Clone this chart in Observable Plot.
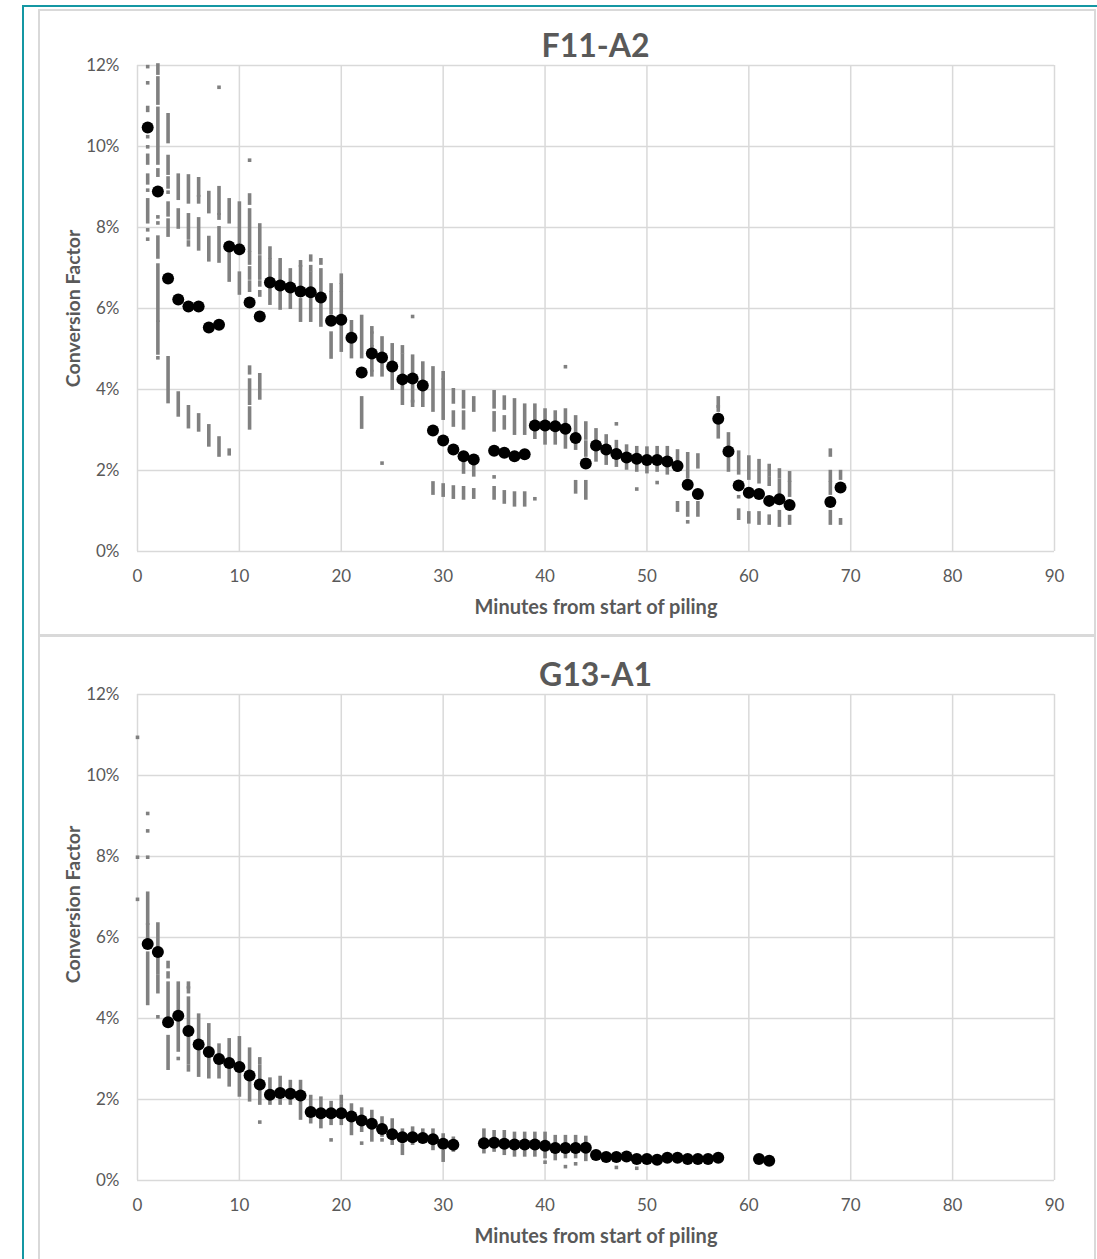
<!DOCTYPE html>
<html><head><meta charset="utf-8">
<script src="https://cdn.jsdelivr.net/npm/d3@7"></script>
<script src="https://cdn.jsdelivr.net/npm/@observablehq/plot@0.6"></script>
<style>
body{margin:0;background:#fff;font-family:Lato,"Open Sans",sans-serif;}
#page{position:relative;width:1097px;height:1259px;overflow:hidden;background:#fff;}
.teal-top{position:absolute;left:22px;top:5px;width:1075px;height:2px;background:#1497a3;}
.teal-left{position:absolute;left:22px;top:5px;width:2px;height:1260px;background:#1497a3;}
.box{position:absolute;left:38px;width:1058px;box-shadow:inset 0 0 0 2px #d9d9d9;}
.box svg{position:absolute;left:0;top:0;}
.title{position:absolute;left:99px;width:917px;text-align:center;font-weight:bold;font-size:32px;line-height:38px;color:#595959;font-family:Lato,"Open Sans",sans-serif;}
</style>
</head><body>
<div id="page">
  <div class="teal-top"></div>
  <div class="teal-left"></div>
  <div class="box" id="box1" style="top:9px;height:627px;"><div class="title" style="top:17px;">F11-A2</div></div>
  <div class="box" id="box2" style="top:635px;height:630px;"><div class="title" style="top:20px;">G13-A1</div></div>
</div>
<script>
// ---- data ----
const xTicks = [0, 10, 20, 30, 40, 50, 60, 70, 80, 90];
const yTicks = [0, 2, 4, 6, 8, 10, 12];
const xLabel = "Minutes from start of piling";
const yLabel = "Conversion Factor";

// F11-A2 mean conversion factor (%) by minute
const f11Minute = [1,2,3,4,5,6,7,8,9,10,11,12,13,14,15,16,17,18,19,20,21,22,23,24,25,26,27,28,29,30,31,32,33,35,36,37,38,39,40,41,42,43,44,45,46,47,48,49,50,51,52,53,54,55,57,58,59,60,61,62,63,64,68,69];
const f11Mean = [10.47,8.89,6.74,6.22,6.05,6.05,5.53,5.60,7.53,7.46,6.15,5.80,6.64,6.57,6.52,6.42,6.40,6.27,5.70,5.72,5.28,4.42,4.89,4.79,4.57,4.25,4.27,4.10,2.99,2.74,2.52,2.35,2.27,2.49,2.44,2.35,2.40,3.11,3.11,3.09,3.03,2.80,2.17,2.62,2.52,2.41,2.32,2.29,2.26,2.26,2.22,2.11,1.65,1.42,3.28,2.47,1.63,1.45,1.42,1.25,1.29,1.15,1.22,1.58];

// F11-A2 individual readings: [minute, low %, high %]
const f11Spread = [
 [1,11.96,11.96],[1,11.56,11.56],[1,10.88,10.95],[1,10.23,10.23],[1,9.98,9.98],[1,9.58,9.77],[1,9.09,9.28],[1,8.91,8.91],[1,8.13,8.67],[1,7.93,7.93],[1,7.70,7.70],
 [2,11.8,12],[2,11.06,11.68],[2,9.58,10.93],[2,9.28,9.41],[2,8.84,8.91],[2,8.25,8.25],[2,8.1,8.1],[2,7.26,7.75],[2,5.70,7.06],[2,4.89,5.65],[2,4.77,4.77],
 [3,10.11,10.77],[3,9.33,9.74],[3,8.99,9.21],[3,8.86,8.86],[3,8.30,8.59],[3,7.80,8.17],[3,3.69,4.77],
 [4,8.71,9.28],[4,8.0,8.42],[4,3.36,3.90],
 [5,8.62,9.26],[5,7.73,8.30],[5,7.56,7.63],[5,3.07,3.56],
 [6,8.79,9.19],[6,8.62,8.75],[6,7.46,8.2],[6,2.99,3.36],
 [7,8.38,8.85],[7,7.19,7.74],[7,2.62,3.09],
 [8,11.45,11.45],[8,8.34,8.97],[8,8.22,8.30],[8,7.16,7.98],[8,2.37,2.79],
 [9,8.13,8.67],[9,6.69,7.36],[9,2.40,2.49],
 [10,7.64,8.59],[10,6.37,6.86],
 [11,9.65,9.65],[11,8.59,8.79],[11,7.43,8.42],[11,7.11,7.36],[11,6.74,6.99],[11,6.44,6.64],[11,4.40,4.54],[11,3.65,4.22],[11,3.04,3.53],
 [12,7.36,8.05],[12,6.74,7.26],[12,6.57,6.64],[12,6.32,6.40],[12,3.78,4.35],
 [13,7.26,7.48],[13,6.12,7.19],
 [14,6.0,7.19],
 [15,6.02,6.94],
 [16,7.06,7.14],[16,6.32,7.02],[16,5.7,6.2],
 [17,7.19,7.28],[17,6.94,7.02],[17,5.7,6.86],
 [18,7.11,7.19],[18,5.58,6.94],
 [19,6.44,6.57],[19,5.88,6.37],[19,4.79,5.38],
 [20,6.64,6.81],[20,6.44,6.57],[20,4.96,6.37],
 [21,4.80,5.66],
 [22,4.80,5.79],[22,3.06,3.78],
 [23,5.41,5.51],[23,5.09,5.38],[23,4.47,5.04],[23,4.35,4.43],
 [24,4.35,5.26],[24,2.17,2.17],
 [25,4.02,5.09],
 [26,4.92,5.04],[26,3.65,4.84],
 [27,5.79,5.79],[27,3.71,4.81],[27,3.60,3.69],
 [28,3.60,4.64],
 [29,3.48,4.52],[29,1.43,1.68],
 [30,4.27,4.40],[30,3.28,4.22],[30,1.38,1.63],
 [31,3.68,3.98],[31,3.11,3.43],[31,1.33,1.58],
 [32,3.56,3.93],[32,3.04,3.43],[32,1.95,2.37],[32,1.31,1.56],
 [33,3.48,3.78],[33,1.88,2.17],[33,1.33,1.51],
 [35,3.56,3.93],[35,2.99,3.41],[35,1.83,1.83],[35,1.31,1.56],
 [36,3.53,3.80],[36,3.04,3.31],[36,1.21,1.46],
 [37,2.91,3.73],[37,1.14,1.43],
 [38,2.91,3.60],[38,1.14,1.43],
 [39,2.81,3.60],[39,1.29,1.29],
 [40,2.67,3.48],
 [41,2.67,3.43],
 [42,4.55,4.55],[42,2.57,3.48],
 [43,2.54,3.31],[43,1.46,1.71],
 [44,2.79,3.16],[44,2.37,2.69],[44,1.31,1.71],
 [45,2.25,2.99],
 [46,2.17,2.84],
 [47,3.14,3.14],[47,2.12,2.70],
 [48,2.05,2.59],
 [49,2.0,2.55],[49,1.53,1.53],
 [50,1.96,2.54],
 [51,2.0,2.55],[51,1.69,1.69],
 [52,1.93,2.55],
 [53,2.0,2.47],[53,1.01,1.19],
 [54,1.83,2.40],[54,0.89,1.19],[54,0.72,0.72],
 [55,2.08,2.37],[55,0.89,1.19],
 [57,3.58,3.78],[57,3.48,3.56],[57,2.82,3.11],
 [58,2.0,2.89],
 [59,1.93,2.44],[59,1.34,1.34],[59,0.81,1.01],
 [60,1.80,2.32],[60,0.72,0.94],
 [61,1.71,2.23],[61,0.69,0.94],
 [62,1.88,2.11],[62,1.65,1.80],[62,0.69,0.86],
 [63,1.83,2.0],[63,1.42,1.74],[63,0.64,0.97],
 [64,1.75,1.93],[64,1.38,1.69],[64,0.69,0.85],
 [68,2.37,2.49],[68,1.75,1.96],[68,1.43,1.68],[68,0.69,0.97],
 [69,1.80,1.96],[69,0.69,0.77]
];

// G13-A1 mean conversion factor (%) by minute
const g13Minute = [1,2,3,4,5,6,7,8,9,10,11,12,13,14,15,16,17,18,19,20,21,22,23,24,25,26,27,28,29,30,31,34,35,36,37,38,39,40,41,42,43,44,45,46,47,48,49,50,51,52,53,54,55,56,57,61,62];
const g13Mean = [5.84,5.64,3.91,4.07,3.69,3.36,3.17,3.00,2.90,2.80,2.59,2.37,2.12,2.16,2.14,2.10,1.69,1.66,1.66,1.66,1.58,1.48,1.40,1.27,1.14,1.07,1.07,1.05,1.02,0.91,0.88,0.92,0.93,0.91,0.89,0.89,0.89,0.86,0.80,0.80,0.80,0.81,0.63,0.58,0.58,0.59,0.53,0.53,0.51,0.56,0.56,0.53,0.53,0.53,0.56,0.53,0.49];

// G13-A1 individual readings: [minute, low %, high %]
const g13Spread = [
 [0,10.93,10.93],[0,7.97,7.97],[0,6.93,6.93],
 [1,9.05,9.05],[1,8.62,8.62],[1,7.97,7.97],[1,6.34,7.08],[1,5.98,6.30],[1,4.36,5.60],
 [2,5.60,6.32],[2,5.11,5.56],[2,4.65,5.02],[2,4.03,4.03],
 [3,5.27,5.37],[3,5.02,5.11],[3,3.91,4.86],[3,2.76,3.54],
 [4,4.20,4.86],[4,3.21,4.03],[4,3.0,3.0],
 [5,4.77,4.86],[5,4.65,4.74],[5,2.89,4.49],[5,2.72,2.80],
 [6,2.59,4.07],
 [7,2.55,3.83],
 [8,2.55,3.33],
 [9,2.35,3.46],
 [10,2.10,3.51],
 [11,1.98,3.23],
 [12,2.89,2.99],[12,1.90,2.80],[12,1.43,1.43],
 [13,1.90,2.49],
 [14,1.90,2.53],
 [15,1.90,2.43],
 [16,1.53,2.43],
 [17,1.44,2.06],
 [18,1.32,2.02],
 [19,1.40,1.91],[19,0.99,0.99],
 [20,1.93,2.06],[20,1.40,1.85],
 [21,1.15,1.85],
 [22,1.23,1.75],[22,0.91,0.91],
 [23,0.99,1.69],
 [24,1.11,1.53],[24,0.99,0.99],
 [25,0.91,1.48],
 [26,0.95,1.23],[26,0.66,0.86],
 [27,0.91,1.28],
 [28,0.95,1.23],
 [29,0.78,1.23],
 [30,0.82,1.11],[30,0.49,0.70],
 [31,0.74,1.03],
 [34,0.70,1.23],
 [35,0.74,1.19],
 [36,0.66,1.19],
 [37,0.62,1.15],
 [38,0.62,1.15],
 [39,0.62,1.15],
 [40,0.58,1.15],[40,0.44,0.44],
 [41,0.53,1.07],
 [42,0.58,1.07],[42,0.33,0.33],
 [43,0.58,1.07],[43,0.40,0.40],
 [44,0.51,1.05],
 [47,0.31,0.31],
 [49,0.29,0.29]
];

// ---- drawing ----
function chart(minutes, means, spread, height, marginTop, marginBottom, yLabelShift) {
  const meanData = minutes.map((m, i) => ({minute: m, value: means[i]}));
  return Plot.plot({
    width: 1058,
    height,
    marginLeft: 99,
    marginRight: 42,
    marginTop,
    marginBottom,
    style: {fontFamily: "Lato, 'Open Sans', sans-serif", fontSize: "17px", color: "#595959", background: "transparent"},
    x: {domain: [0, 90], ticks: xTicks, tickSize: 0, tickPadding: 18, label: null},
    y: {domain: [0, 12], ticks: yTicks, tickSize: 0, tickPadding: 18, tickFormat: d => d + "%", label: null},
    marks: [
      Plot.gridX(xTicks, {stroke: "#d9d9d9", strokeOpacity: 1, strokeWidth: 1.5}),
      Plot.gridY(yTicks, {stroke: "#d9d9d9", strokeOpacity: 1, strokeWidth: 1.5}),
      Plot.ruleX(spread, {x: d => d[0], y1: d => d[1], y2: d => d[2], stroke: "#808080", strokeWidth: 3.6, strokeLinecap: "square"}),
      Plot.dot(meanData, {x: "minute", y: "value", r: 6, fill: "#000", stroke: "none"}),
      Plot.text([xLabel], {text: d => d, frameAnchor: "bottom", lineAnchor: "middle", textAnchor: "middle", dy: 56, fontSize: 20, fontWeight: "bold", fill: "#595959"}),
      Plot.text([yLabel], {text: d => d, frameAnchor: "left", lineAnchor: "middle", textAnchor: "middle", dx: -64, dy: yLabelShift, rotate: -90, fontSize: 19.5, fontWeight: "bold", fill: "#595959"})
    ]
  });
}
document.getElementById("box1").appendChild(chart(f11Minute, f11Mean, f11Spread, 627, 56, 85, 0));
document.getElementById("box2").appendChild(chart(g13Minute, g13Mean, g13Spread, 630, 59, 85, -33));
</script>
</body></html>
